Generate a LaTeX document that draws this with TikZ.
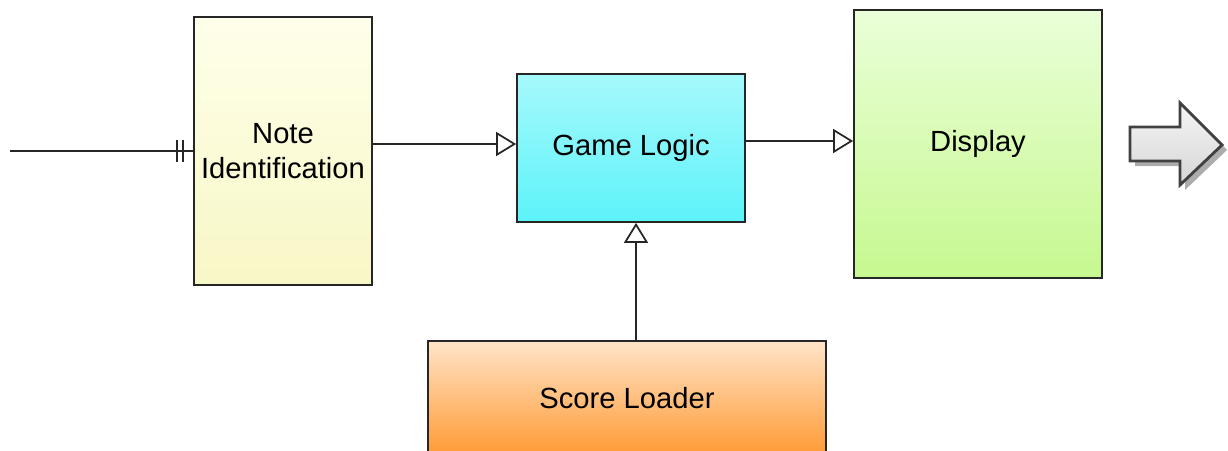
\documentclass[tikz,border=0pt]{standalone}
\usepackage{fontspec}
\setmainfont{Liberation Sans}
\usetikzlibrary{arrows.meta, positioning, calc}

\definecolor{noteTop}{HTML}{FFFFEA}
\definecolor{noteBot}{HTML}{F7F7C6}
\definecolor{gameTop}{HTML}{A6F9FB}
\definecolor{gameBot}{HTML}{5CF3FA}
\definecolor{dispTop}{HTML}{EAFFD8}
\definecolor{dispBot}{HTML}{C6F890}
\definecolor{scoreTop}{HTML}{FFE4C8}
\definecolor{scoreBot}{HTML}{FF9A34}

\begin{document}
\begin{tikzpicture}[
  block/.style={draw=black!85, line width=0.5pt, align=center, inner sep=2pt,
    font=\fontsize{8.3}{9.8}\selectfont},
  wire/.style={draw=black!85, line width=0.5pt},
  flow/.style={wire, -{Triangle[open, length=2mm, width=2.4mm]}},
]
\useasboundingbox (0,0) rectangle (12.28,4.5);

% Blocks
\node[block, minimum width=1.78cm, minimum height=2.68cm,
  top color=noteTop, bottom color=noteBot] (note) at (2.83,2.99) {Note\\Identification};
\node[block, minimum width=2.28cm, minimum height=1.48cm,
  top color=gameTop, bottom color=gameBot] (game) at (6.31,3.02) {Game Logic};
\node[block, minimum width=2.48cm, minimum height=2.68cm,
  top color=dispTop, bottom color=dispBot] (disp) at (9.78,3.06) {Display};
\node[block, minimum width=3.98cm, minimum height=1.14cm,
  top color=scoreTop, bottom color=scoreBot] (score) at (6.27,0.52) {Score Loader};

% Input with double bar
\coordinate (in) at (0.10,2.99);
\draw[wire] (in) -- (note.west);
\foreach \dx in {1.0,1.6}
  \draw[wire] ([xshift=-\dx mm, yshift=-1.1mm]note.west) -- ++(0,2.2mm);

% Connections
\coordinate (n2g) at ([yshift=0.7mm]note.east);
\coordinate (g2d) at ([yshift=0.7mm]game.east);
\coordinate (s2g) at (6.36,0);
\draw[flow] (n2g) -- (n2g -| game.west);
\draw[flow] (g2d) -- (g2d -| disp.west);
\draw[flow] (score.north -| s2g) -- (game.south -| s2g);

% Output block arrow with shadow
\fill[gray!65, xshift=0.5mm, yshift=-0.5mm]
  (11.30,3.23) -- (11.80,3.23) -- (11.80,3.47) -- (12.22,3.05) -- (11.80,2.65) -- (11.80,2.89) -- (11.30,2.89) -- cycle;
\draw[draw=black!75, line width=0.8pt, top color=gray!8, bottom color=gray!32, line join=miter]
  (11.30,3.23) -- (11.80,3.23) -- (11.80,3.47) -- (12.22,3.05) -- (11.80,2.65) -- (11.80,2.89) -- (11.30,2.89) -- cycle;

\end{tikzpicture}
\end{document}
